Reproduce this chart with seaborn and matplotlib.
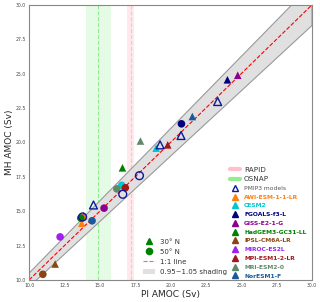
import numpy as np
import pandas as pd
import matplotlib
matplotlib.use("Agg")
import matplotlib.pyplot as plt
import seaborn as sns
from matplotlib.lines import Line2D
from matplotlib.patches import Patch

sns.set_style("white")
plt.rcParams['font.family'] = ['DejaVu Sans']

# ---- data ----
models = ["AWI-ESM-1-1-LR", "CESM2", "FGOALS-f3-L", "GISS-E2-1-G", "HadGEM3-GC31-LL",
          "IPSL-CM6A-LR", "MIROC-ES2L", "MPI-ESM1-2-LR", "MRI-ESM2-0", "NorESM1-F"]
colors = ["#ff7f0e", "#00c8d2", "#000080", "#8b008b", "#008000",
          "#8b4513", "#a020f0", "#a01818", "#5f8a6a", "#1a5a9a"]

# 30N (triangles)
pi_30 = [13.72, 18.98, 24.02, 24.75, 16.6, 11.84, 13.85, 19.8, 17.87, 21.54]
mh_30 = [14.12, 19.58, 24.55, 24.88, 18.15, 11.16, 14.68, 19.82, 20.1, 21.88]
# 50N (circles)
pi_50 = [13.75, 16.55, 20.77, 15.3, 13.65, 10.97, 12.19, 16.8, 16.2, 14.45]
mh_50 = [14.5, 16.88, 21.35, 15.22, 14.5, 10.41, 13.13, 16.7, 16.62, 14.3]

# PMIP3 models (open markers)
pmip3_pi_30 = [14.55, 19.26, 20.74, 23.33]
pmip3_mh_30 = [15.45, 19.82, 20.5, 22.97]
pmip3_pi_50 = [16.62, 17.8, 13.78]
pmip3_mh_50 = [16.23, 17.58, 14.58]

rapid_center, rapid_lo, rapid_hi = 17.2, 16.95, 17.4
osnap_center, osnap_lo, osnap_hi = 14.9, 14.0, 15.8

df = pd.DataFrame({
    "model": models * 2,
    "lat": ["30° N"] * 10 + ["50° N"] * 10,
    "PI": pi_30 + pi_50,
    "MH": mh_30 + mh_50,
})
pm = pd.DataFrame({
    "lat": ["30° N"] * 4 + ["50° N"] * 3,
    "PI": pmip3_pi_30 + pmip3_pi_50,
    "MH": pmip3_mh_30 + pmip3_mh_50,
})

fig = plt.figure(figsize=(3.2, 3.02), dpi=100)
ax = fig.add_axes([0.091, 0.073, 0.884, 0.911])

# shading
xx = np.linspace(10, 30, 50)
ax.fill_between(xx, 0.95 * xx, 1.05 * xx, color="#e0e0e0", edgecolor="#999999", lw=0.8, zorder=1)
ax.plot(xx, xx, ls="--", color="red", lw=0.8, zorder=2)

ax.axvspan(rapid_lo, rapid_hi, color="pink", alpha=0.35, lw=0, zorder=0)
ax.axvline(rapid_center, ls="--", color="pink", lw=0.8, zorder=0.5)
ax.axvspan(osnap_lo, osnap_hi, color="lightgreen", alpha=0.22, lw=0, zorder=0)
ax.axvline(osnap_center, ls="--", color="lightgreen", lw=0.8, zorder=0.5)

pal = dict(zip(models, colors))
sns.scatterplot(data=df, x="PI", y="MH", hue="model", style="lat", palette=pal,
                markers={"30° N": "^", "50° N": "o"}, s=30, edgecolor="none",
                legend=False, ax=ax, zorder=4)
sns.scatterplot(data=pm, x="PI", y="MH", style="lat",
                markers={"30° N": "^", "50° N": "o"}, s=32, facecolor="none",
                edgecolor="#0a1a9a", linewidth=1.0, legend=False, ax=ax, zorder=5)

ax.set_xlim(10, 30)
ax.set_ylim(10, 30)
ax.set_xticks(np.arange(10, 30.1, 2.5))
ax.set_yticks(np.arange(10, 30.1, 2.5))
ax.tick_params(labelsize=3.3, length=1.5, width=0.5, pad=1, colors="#444444")
ax.set_xlabel("PI AMOC (Sv)", fontsize=6.5, labelpad=1)
ax.set_ylabel("MH AMOC (Sv)", fontsize=6.5, labelpad=1)
for sp in ax.spines.values():
    sp.set_color("#888888")
    sp.set_linewidth(0.8)

# legend 1: observations and models
h1 = [Line2D([], [], color="pink", lw=3),
      Line2D([], [], color="lightgreen", lw=3),
      Line2D([], [], marker="^", ls="none", markerfacecolor="none",
             markeredgecolor="#0a1a9a", markeredgewidth=1.0, markersize=5)]
l1 = ["RAPID", "OSNAP", "PMIP3 models"]
for m, c in zip(models, colors):
    h1.append(Line2D([], [], marker="^", ls="none", color=c, markersize=5))
    l1.append(m)
leg1 = ax.legend(h1, l1, loc="lower right", bbox_to_anchor=(0.995, -0.01), frameon=False,
                 fontsize=4.3, handlelength=1.6, labelspacing=0.6, handletextpad=0.7,
                 borderpad=0.2)
for i, t in enumerate(leg1.get_texts()):
    if i < 2:
        t.set_fontsize(5.2)
        t.set_color("#333333")
    elif i == 2:
        t.set_color("#555555")
    else:
        t.set_color(colors[i - 3])
        t.set_fontweight("bold")
ax.add_artist(leg1)

h2 = [Line2D([], [], marker="^", ls="none", color="green", markersize=4.5),
      Line2D([], [], marker="o", ls="none", color="green", markersize=4.5),
      Line2D([], [], ls="--", color="red", lw=0.8, alpha=0.6),
      Patch(facecolor="#e0e0e0", edgecolor="none")]
l2 = ["30° N", "50° N", "1:1 line", "0.95~1.05 shading"]
leg2 = ax.legend(h2, l2, loc="lower left", bbox_to_anchor=(0.385, 0.0), frameon=False,
                 fontsize=5.0, handlelength=1.8, labelspacing=0.6, handletextpad=0.6,
                 borderpad=0.2)
for t in leg2.get_texts():
    t.set_color("#333333")

fig.savefig("out.png", dpi=100)
